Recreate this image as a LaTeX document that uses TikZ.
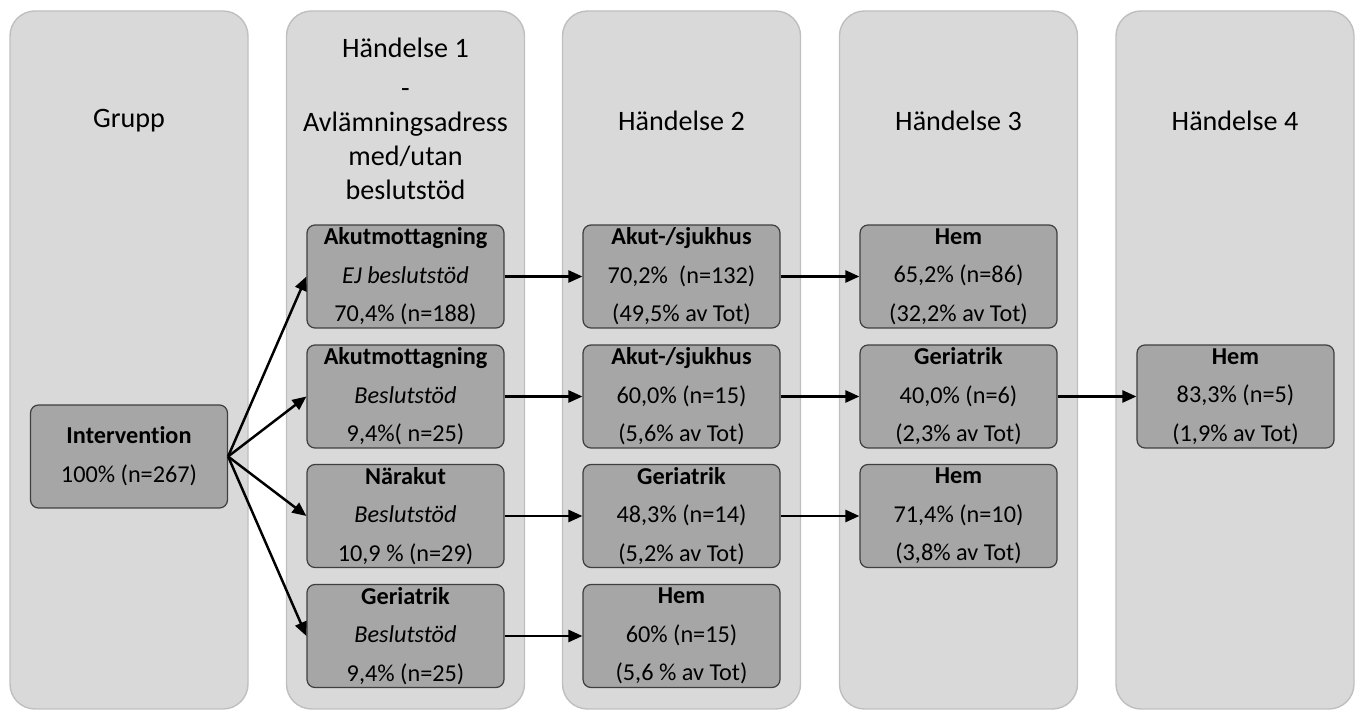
\documentclass[tikz,border=0pt]{standalone}
\usepackage{fontspec}
\setmainfont[Ligatures=NoCommon]{Carlito}
\usetikzlibrary{arrows.meta, positioning}

\definecolor{lanefill}{HTML}{D9D9D9}
\definecolor{laneline}{HTML}{BFBFBF}
\definecolor{boxfill}{HTML}{A6A6A6}
\definecolor{boxline}{HTML}{3F3F3F}

\tikzset{
    lane/.style={fill=lanefill, draw=laneline, line width=0.8pt, rounded corners=0.5cm},
    lanetitle/.style={align=center, font=\fontsize{16}{19.5}\selectfont},
    stage/.style={draw=boxline, fill=boxfill, line width=0.7pt, rounded corners=0.16cm,
        minimum width=3.94cm, minimum height=2.06cm, inner sep=0pt, align=center,
        font=\fontsize{13.8}{22}\selectfont},
    flow/.style={line width=1.4pt, -{Triangle[length=0.28cm, width=0.24cm]}}
}

\begin{document}
\begin{tikzpicture}[x=0.02cm, y=-0.02cm]
    \useasboundingbox (0,0) rectangle (1360,712);

    % Lanes
    \foreach \c in {129, 405.5, 681.5, 958.5, 1235} {
        \draw[lane] (\c-119, 11) rectangle (\c+119, 709);
    }
    \node[lanetitle] (tgrupp) at (129, 121) {Grupp};
    \node[lanetitle] (th1) at (405.5, 119) {Händelse 1\\[3pt]-\\Avlämningsadress\\med/utan\\beslutstöd};
    \node[lanetitle] (th2) at (681.5, 121) {Händelse 2};
    \node[lanetitle] (th3) at (958.5, 121) {Händelse 3};
    \node[lanetitle] (th4) at (1235, 121) {Händelse 4};

    % Grupp
    \node[stage] (interv) at (129, 456.5) {\textbf{Intervention}\\100\% (n=267)};

    % Händelse 1
    \node[stage] (h1a) at (405.5, 276.5) {\textbf{Akutmottagning}\\\textit{EJ beslutstöd}\\70,4\% (n=188)};
    \node[stage] (h1b) at (405.5, 396.5) {\textbf{Akutmottagning}\\\textit{Beslutstöd}\\9,4\%( n=25)};
    \node[stage] (h1c) at (405.5, 516) {\textbf{Närakut}\\\textit{Beslutstöd}\\10,9 \% (n=29)};
    \node[stage] (h1d) at (405.5, 636) {\textbf{Geriatrik}\\\textit{Beslutstöd}\\9,4\% (n=25)};

    % Händelse 2
    \node[stage] (h2a) at (681.5, 276.5) {\textbf{Akut-/sjukhus}\\70,2\%\ \ (n=132)\\(49,5\% av Tot)};
    \node[stage] (h2b) at (681.5, 396.5) {\textbf{Akut-/sjukhus}\\60,0\% (n=15)\\(5,6\% av Tot)};
    \node[stage] (h2c) at (681.5, 516) {\textbf{Geriatrik}\\48,3\% (n=14)\\(5,2\% av Tot)};
    \node[stage] (h2d) at (681.5, 636) {\textbf{Hem}\\60\% (n=15)\\(5,6 \% av Tot)};

    % Händelse 3
    \node[stage] (h3a) at (958.5, 276.5) {\textbf{Hem}\\65,2\% (n=86)\\(32,2\% av Tot)};
    \node[stage] (h3b) at (958.5, 396.5) {\textbf{Geriatrik}\\40,0\% (n=6)\\(2,3\% av Tot)};
    \node[stage] (h3c) at (958.5, 516) {\textbf{Hem}\\71,4\% (n=10)\\(3,8\% av Tot)};

    % Händelse 4
    \node[stage] (h4a) at (1235.5, 396.5) {\textbf{Hem}\\83,3\% (n=5)\\(1,9\% av Tot)};

    % Flows
    \foreach \t in {h1a, h1b, h1c, h1d} {
        \draw[flow] (interv.east) -- (\t.west);
    }
    \foreach \s/\t in {h1a/h2a, h1b/h2b, h1c/h2c, h1d/h2d, h2a/h3a, h2b/h3b, h2c/h3c, h3b/h4a} {
        \draw[flow] (\s) -- (\t);
    }
\end{tikzpicture}
\end{document}
